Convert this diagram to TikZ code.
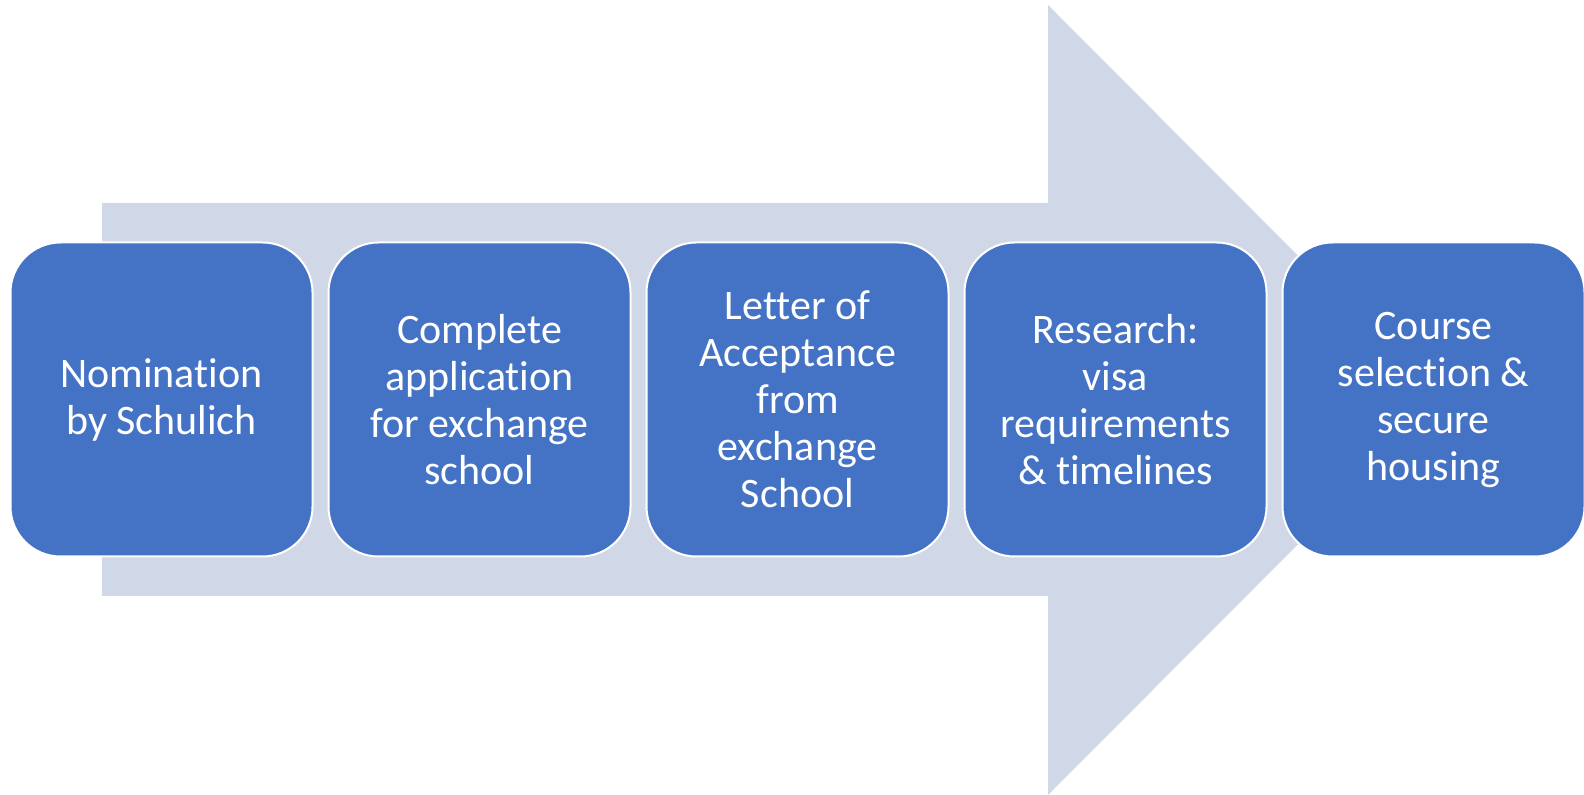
\documentclass[tikz,border=0pt]{standalone}
\usepackage{fontspec}
\setmainfont{Carlito}[Ligatures=NoCommon]
\usetikzlibrary{positioning}
\definecolor{stepblue}{HTML}{4472C4}
\definecolor{arrowgrey}{HTML}{D0D8E7}

\begin{document}
\begin{tikzpicture}[x=0.5pt, y=-0.5pt,
    stepbox/.style={draw=white, line width=1pt, fill=stepblue, rounded corners=25pt,
      minimum width=151pt, minimum height=157pt, align=center, text=white,
      font=\fontsize{21}{23.5}\selectfont},
    node distance=7pt]
  \useasboundingbox (0,0) rectangle (1584,795);
  \fill[arrowgrey] (102,203) -- (1048,203) -- (1048,5) -- (1442,400) -- (1048,795)
    -- (1048,596) -- (102,596) -- cycle;
  \node[stepbox] (nom) at (161.5,399.5) {Nomination\\by Schulich};
  \node[stepbox, right=of nom] (app) {Complete\\application\\for exchange\\school};
  \node[stepbox, right=of app] (letter) {Letter of\\Acceptance\\from\\exchange\\School};
  \node[stepbox, right=of letter] (visa) {Research:\\visa\\requirements\\\& timelines};
  \node[stepbox, right=of visa] (course) {Course\\selection \&\\secure\\housing};
\end{tikzpicture}
\end{document}
